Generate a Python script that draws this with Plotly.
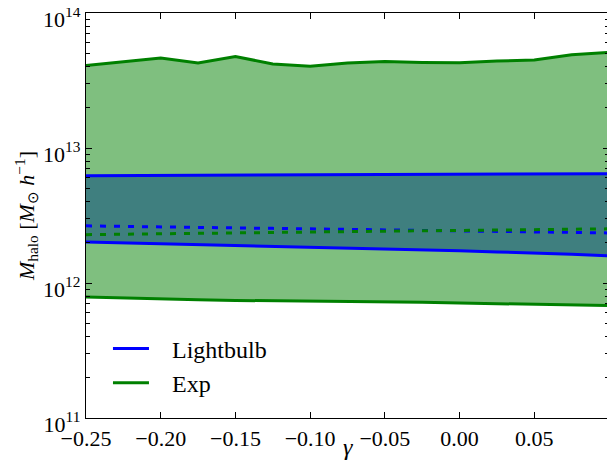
import plotly.graph_objects as go

gamma = [-0.25, -0.225, -0.20, -0.175, -0.15, -0.125, -0.10, -0.075,
         -0.05, -0.025, 0.00, 0.025, 0.05, 0.075, 0.10]

# Lightbulb model (blue)
lb_upper = [6.24e12, 6.26e12, 6.27e12, 6.29e12, 6.30e12, 6.32e12, 6.33e12, 6.35e12,
            6.36e12, 6.38e12, 6.39e12, 6.41e12, 6.42e12, 6.44e12, 6.46e12]
lb_median = [2.65e12, 2.62e12, 2.60e12, 2.58e12, 2.56e12, 2.54e12, 2.52e12, 2.50e12,
             2.48e12, 2.46e12, 2.44e12, 2.42e12, 2.40e12, 2.37e12, 2.35e12]
lb_lower = [2.01e12, 1.98e12, 1.96e12, 1.93e12, 1.91e12, 1.88e12, 1.86e12, 1.83e12,
            1.80e12, 1.77e12, 1.73e12, 1.70e12, 1.67e12, 1.63e12, 1.59e12]

# Exp model (green)
exp_upper = [4.09e13, 4.37e13, 4.64e13, 4.26e13, 4.77e13, 4.19e13, 4.03e13, 4.26e13,
             4.38e13, 4.30e13, 4.28e13, 4.41e13, 4.49e13, 4.91e13, 5.11e13]
exp_median = [2.28e12, 2.30e12, 2.32e12, 2.34e12, 2.35e12, 2.37e12, 2.39e12, 2.41e12,
              2.42e12, 2.44e12, 2.45e12, 2.47e12, 2.49e12, 2.50e12, 2.52e12]
exp_lower = [7.87e11, 7.72e11, 7.60e11, 7.52e11, 7.43e11, 7.40e11, 7.36e11, 7.31e11,
             7.27e11, 7.19e11, 7.11e11, 7.03e11, 6.95e11, 6.88e11, 6.80e11]

names = ["Lightbulb", "Exp"]
x_ticks = [-0.25, -0.20, -0.15, -0.10, -0.05, 0.00, 0.05]
y_ticks = [1e11, 1e12, 1e13, 1e14]
y_ticktext = ["10<sup>11</sup>", "10<sup>12</sup>", "10<sup>13</sup>", "10<sup>14</sup>"]

BLUE = "#0000ff"
GREEN = "#008000"
FONT = "Liberation Serif, serif"
PAD = "\u00a0\u00a0\u00a0"  # gap between legend line and label

fig = go.Figure()

# filled bands (blue first, green over it)
for lo, hi, fc in [(lb_lower, lb_upper, "rgba(0,0,255,0.5)"),
                   (exp_lower, exp_upper, "rgba(0,128,0,0.5)")]:
    fig.add_trace(go.Scatter(x=gamma, y=lo, mode="lines", line=dict(width=0),
                             showlegend=False, hoverinfo="skip"))
    fig.add_trace(go.Scatter(x=gamma, y=hi, mode="lines", line=dict(width=0),
                             fill="tonexty", fillcolor=fc,
                             showlegend=False, hoverinfo="skip"))

# lines
for name, lo, med, hi, col in [(names[0], lb_lower, lb_median, lb_upper, BLUE),
                               (names[1], exp_lower, exp_median, exp_upper, GREEN)]:
    fig.add_trace(go.Scatter(x=gamma, y=hi, mode="lines", name=PAD + name,
                             line=dict(color=col, width=3)))
    fig.add_trace(go.Scatter(x=gamma, y=lo, mode="lines", showlegend=False,
                             line=dict(color=col, width=3)))
    fig.add_trace(go.Scatter(x=gamma, y=med, mode="lines", showlegend=False,
                             line=dict(color=col, width=3, dash="6px,8px")))

minor_vals = [m * 10 ** e for e in (11, 12, 13) for m in range(2, 10)]

# the page body keeps its default 8px margin, so the figure fills the rest of the window
fig.update_layout(
    template="none",
    width=607, height=456,
    margin=dict(l=78, r=6, t=5, b=46, autoexpand=False),
    paper_bgcolor="white", plot_bgcolor="white",
    font=dict(family=FONT, size=22, color="black"),
    showlegend=True,
    legend=dict(x=0.042, y=0.031, xanchor="left", yanchor="bottom",
                traceorder="normal",
                bgcolor="rgba(0,0,0,0)", borderwidth=0,
                font=dict(family=FONT, size=24, color="black"),
                itemwidth=36, tracegroupgap=0),
    xaxis=dict(
        range=[-0.25, 0.1], tickvals=x_ticks, tickformat=".2f",
        automargin=False,
        ticks="inside", ticklen=6, tickwidth=1, tickcolor="black",
        showline=True, linecolor="black", linewidth=1.3, mirror="allticks",
        showgrid=False, zeroline=False, ticklabeloverflow="allow",
        tickfont=dict(family=FONT, size=22),
    ),
    yaxis=dict(
        type="log", range=[11, 14.0002], tickvals=y_ticks, ticktext=y_ticktext,
        automargin=False, ticklabelshift=6,
        ticks="inside", ticklen=6, tickwidth=1, tickcolor="black",
        showline=True, linecolor="black", linewidth=1.3, mirror="allticks",
        showgrid=False, zeroline=False, ticklabeloverflow="allow",
        tickfont=dict(family=FONT, size=22),
        minor=dict(tickvals=minor_vals, ticks="inside", ticklen=3.5,
                   tickcolor="black", tickwidth=1, showgrid=False),
        title=dict(text="<i>M</i><sub>halo</sub> [<i>M</i><sub>⊙</sub> <i>h</i><sup>−1</sup>]",
                   font=dict(family=FONT, size=22), standoff=2),
    ),
    annotations=[dict(text="<i>γ</i>", xref="paper", yref="paper",
                      x=0.5, y=-0.071, xanchor="center", yanchor="middle",
                      showarrow=False, font=dict(family=FONT, size=24))],
)

fig.write_html("out.html")
